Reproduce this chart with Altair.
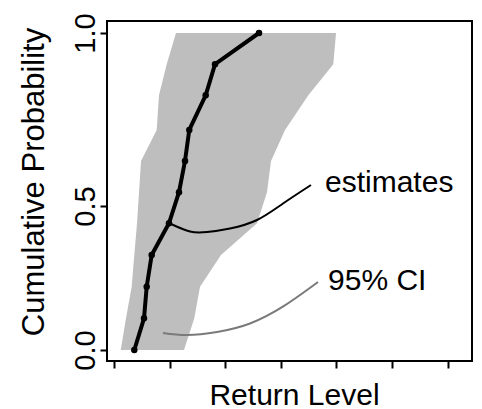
import altair as alt
import pandas as pd

# Cumulative probability levels
prob = [1.0, 0.91, 0.82, 0.72, 0.63, 0.54, 0.44, 0.33, 0.22, 0.11, 0.0]
# Return level estimates and 95% CI bounds (arbitrary units, ticks at 0..6)
estimate = [2.608, 1.817, 1.649, 1.354, 1.277, 1.169, 0.989, 0.678, 0.588, 0.540, 0.365]
ci_lower = [1.115, 0.948, 0.809, 0.768, 0.486, 0.450, 0.414, 0.365, 0.318, 0.216, 0.121]
ci_upper = [3.993, 3.944, 3.495, 3.076, 2.824, 2.752, 2.572, 1.924, 1.547, 1.444, 1.259]

# Annotation leader curves
est_curve_x = [1.025, 1.367, 1.673, 2.086, 2.572, 3.040, 3.543]
est_curve_y = [0.4375, 0.4115, 0.4097, 0.4219, 0.4514, 0.5072, 0.5607]
ci_curve_x = [0.881, 1.313, 1.853, 2.446, 3.058, 3.669]
ci_curve_y = [0.059, 0.052, 0.0625, 0.092, 0.153, 0.236]

# Annotation labels
label_text = ["estimates", "95% CI"]
label_x = [3.795, 3.849]
label_y = [0.5405, 0.2083]

x_ticks = [0, 1, 2, 3, 4, 5, 6]
y_ticks = [0.0, 0.5, 1.0]

main = pd.DataFrame({"prob": prob, "est": estimate, "lo": ci_lower, "hi": ci_upper})
est_curve = pd.DataFrame({"x": est_curve_x, "y": est_curve_y, "i": list(range(len(est_curve_x)))})
ci_curve = pd.DataFrame({"x": ci_curve_x, "y": ci_curve_y, "i": list(range(len(ci_curve_x)))})
labels = pd.DataFrame({"t": label_text, "x": label_x, "y": label_y})

FONT = "Liberation Sans"

xs = alt.Scale(domain=[-0.1259, 6.4388], nice=False, zero=False)
ys = alt.Scale(domain=[-0.0382, 0.5, 1.0347], range=[340, 185, 0], nice=False, zero=False)

x_axis = alt.Axis(
    values=x_ticks, labels=False, grid=False, domain=False,
    tickSize=7, tickWidth=2, tickColor="black",
    title="Return Level", titleFontSize=30, titleFont=FONT, titleFontWeight="normal",
    titleColor="black", titleX=187, titleY=43, titleAlign="center",
    titleBaseline="alphabetic", titleAngle=0,
)
y_axis = alt.Axis(
    values=y_ticks, format=".1f", grid=False, domain=False,
    tickSize=7, tickWidth=2, tickColor="black",
    labelAngle=270, labelAlign="center", labelBaseline="alphabetic",
    labelPadding=6, labelFontSize=29, labelFont=FONT, labelColor="black",
    title="Cumulative Probability", titleFontSize=31, titleFont=FONT,
    titleFontWeight="normal", titleColor="black", titleAngle=270,
    titleX=-64, titleY=160.5, titleAlign="center", titleBaseline="alphabetic",
)

band = alt.Chart(main).mark_area(orient="horizontal", color="#BEBEBE", opacity=1).encode(
    y=alt.Y("prob:Q", scale=ys, axis=y_axis),
    x=alt.X("lo:Q", scale=xs, axis=x_axis),
    x2="hi:Q",
)

line = alt.Chart(main).mark_line(color="black", strokeWidth=4).encode(
    y=alt.Y("prob:Q", scale=ys, axis=y_axis),
    x=alt.X("est:Q", scale=xs, axis=x_axis),
    order=alt.Order("prob:Q"),
)

pts = alt.Chart(main).mark_circle(color="black", size=42, opacity=1).encode(
    y=alt.Y("prob:Q", scale=ys, axis=y_axis),
    x=alt.X("est:Q", scale=xs, axis=x_axis),
)

c1 = alt.Chart(est_curve).mark_line(color="black", strokeWidth=2, interpolate="natural").encode(
    x=alt.X("x:Q", scale=xs, axis=x_axis),
    y=alt.Y("y:Q", scale=ys, axis=y_axis),
    order=alt.Order("i:Q"),
)

c2 = alt.Chart(ci_curve).mark_line(color="#7a7a7a", strokeWidth=2, interpolate="natural").encode(
    x=alt.X("x:Q", scale=xs, axis=x_axis),
    y=alt.Y("y:Q", scale=ys, axis=y_axis),
    order=alt.Order("i:Q"),
)

txt = alt.Chart(labels).mark_text(
    align="left", baseline="alphabetic", fontSize=30, font=FONT, color="black"
).encode(
    x=alt.X("x:Q", scale=xs, axis=x_axis),
    y=alt.Y("y:Q", scale=ys, axis=y_axis),
    text="t:N",
)

chart = alt.layer(band, line, pts, c1, c2, txt).properties(
    width=365, height=340,
    padding={"left": 107, "top": 21, "right": 10, "bottom": 48},
    autosize=alt.AutoSizeParams(type="none"),
    background="white",
).configure_view(stroke="black", strokeWidth=2)

chart.save("out.html", embed_options={"renderer": "svg", "actions": False})
